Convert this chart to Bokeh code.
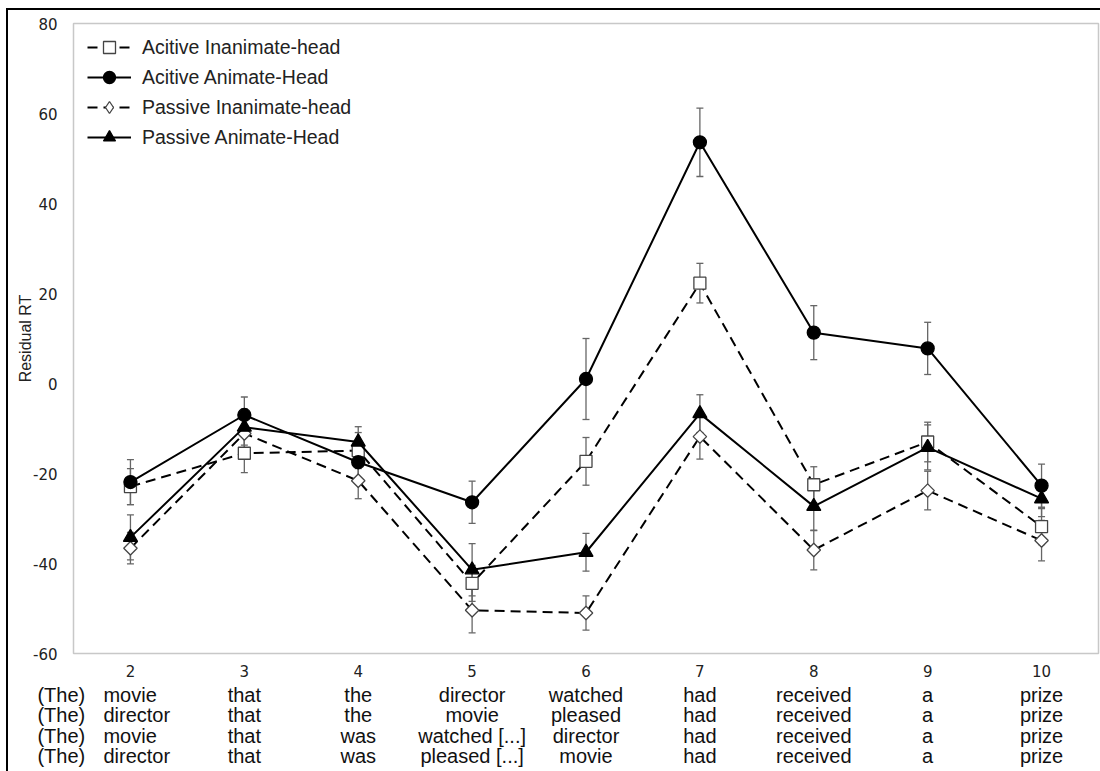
from bokeh.plotting import figure
from bokeh.layouts import column
from bokeh.models import (ColumnDataSource, Whisker, TeeHead, Legend, LegendItem,
                          FixedTicker, Range1d)
from bokeh.embed import file_html
from bokeh.resources import INLINE
from bokeh.core.properties import value

# ---------------- data ----------------
positions = [2, 3, 4, 5, 6, 7, 8, 9, 10]

act_inan = [-22.9, -15.5, -14.9, -44.4, -17.3, 22.3, -22.5, -13.0, -31.8]
act_inan_err = [4.0, 4.3, 4.0, 4.0, 5.3, 4.4, 4.0, 4.4, 4.0]

act_anim = [-21.9, -7.0, -17.5, -26.4, 1.0, 53.6, 11.3, 7.8, -22.7]
act_anim_err = [5.0, 4.0, 4.0, 4.7, 9.0, 7.6, 6.0, 5.8, 4.8]

pas_inan = [-36.6, -11.1, -21.6, -50.4, -51.0, -11.8, -37.0, -23.8, -34.9]
pas_inan_err = [3.5, 4.0, 4.0, 5.0, 3.8, 5.0, 4.4, 4.3, 4.5]

pas_anim = [-34.2, -9.7, -13.0, -41.4, -37.5, -6.7, -27.3, -14.2, -25.6]
pas_anim_err = [5.0, 4.0, 3.4, 5.8, 4.2, 4.2, 5.4, 5.0, 4.0]

series_names = ["Acitive Inanimate-head", "Acitive Animate-Head",
                "Passive Inanimate-head", "Passive Animate-Head"]

y_ticks = [-60, -40, -20, 0, 20, 40, 60, 80]
y_tick_labels = ["-60", "-40", "-20", "0", "20", "40", "60", "80"]
x_tick_labels = ["2", "3", "4", "5", "6", "7", "8", "9", "10"]

row_prefix = "(The)"
word_rows = [
    ["movie", "that", "the", "director", "watched", "had", "received", "a", "prize"],
    ["director", "that", "the", "movie", "pleased", "had", "received", "a", "prize"],
    ["movie", "that", "was", "watched [...]", "director", "had", "received", "a", "prize"],
    ["director", "that", "was", "pleased [...]", "movie", "had", "received", "a", "prize"],
]

# ---------------- geometry ----------------
CANVAS_W = 1092
FRAME_L, FRAME_W = 65, 1025
FRAME_R = CANVAS_W - FRAME_L - FRAME_W
TOP_H = 673
WORDS_H = 88
X0, X1 = 1.5, 10.5

# ---------------- main figure ----------------
p = figure(width=CANVAS_W, height=TOP_H, x_range=Range1d(X0, X1), y_range=(-60, 80),
           output_backend="svg", toolbar_location=None,
           min_border_left=FRAME_L, min_border_right=FRAME_R, min_border_top=13,
           min_border_bottom=30,
           background_fill_color="white", border_fill_color="white",
           outline_line_color="#c8c8c8", outline_line_width=1.5)
p.frame_align = False

p.xgrid.visible = False
p.ygrid.visible = False

p.yaxis.ticker = FixedTicker(ticks=y_ticks)
p.yaxis.major_label_overrides = {t: l for t, l in zip(y_ticks, y_tick_labels)}
p.yaxis.axis_line_color = None
p.yaxis.major_tick_line_color = None
p.yaxis.minor_tick_line_color = None
p.yaxis.major_label_text_font = "DejaVu Sans"
p.yaxis.major_label_text_font_size = "15px"
p.yaxis.major_label_text_color = "#222222"
p.yaxis.major_label_standoff = 10
p.yaxis.axis_label = "Residual RT"
p.yaxis.axis_label_text_font = "Liberation Sans"
p.yaxis.axis_label_text_font_style = "normal"
p.yaxis.axis_label_text_font_size = "16px"
p.yaxis.axis_label_text_color = "#222222"
p.yaxis.axis_label_standoff = -4

p.xaxis.ticker = FixedTicker(ticks=positions)
p.xaxis.major_label_overrides = {t: l for t, l in zip(positions, x_tick_labels)}
p.xaxis.axis_line_color = None
p.xaxis.major_tick_line_color = None
p.xaxis.minor_tick_line_color = None
p.xaxis.major_label_text_font = "DejaVu Sans"
p.xaxis.major_label_text_font_size = "15px"
p.xaxis.major_label_text_color = "#222222"
p.xaxis.major_label_standoff = 5

styles = [
    dict(dash="10 6", marker="square", size=12, fill="white", line="#444444", angle=0.0),
    dict(dash="solid", marker="circle", size=13, fill="black", line="black", angle=0.0),
    dict(dash="10 6", marker="square", size=9.5, fill="white", line="#444444", angle=0.785398),
    dict(dash="solid", marker="triangle", size=14, fill="black", line="black", angle=0.0),
]
all_vals = [act_inan, act_anim, pas_inan, pas_anim]
all_errs = [act_inan_err, act_anim_err, pas_inan_err, pas_anim_err]

for vals, errs in zip(all_vals, all_errs):
    src = ColumnDataSource(dict(x=positions,
                                upper=[v + e for v, e in zip(vals, errs)],
                                lower=[v - e for v, e in zip(vals, errs)]))
    w = Whisker(base="x", upper="upper", lower="lower", source=src,
                line_color="#666666", line_width=1.3,
                upper_head=TeeHead(size=7, line_color="#666666", line_width=1.3),
                lower_head=TeeHead(size=7, line_color="#666666", line_width=1.3))
    w.level = "underlay"
    p.add_layout(w)

items = []
for k, (name, vals, st) in enumerate(zip(series_names, all_vals, styles)):
    src = ColumnDataSource(dict(x=positions, y=vals))
    ln = p.line("x", "y", source=src, line_color="black", line_width=2,
                line_dash=st["dash"])
    if st["angle"] != 0.0:
        # diamond symbol used by the legend; it sits hidden under the rotated square
        sym = p.scatter("x", "y", source=src, marker="diamond", size=11,
                        fill_color=st["fill"], line_color=st["line"], line_width=1.3)
    sc = p.scatter("x", "y", source=src, marker=st["marker"], size=st["size"],
                   fill_color=st["fill"], line_color=st["line"], line_width=1.3,
                   angle=st["angle"])
    if st["angle"] != 0.0:
        items.append(LegendItem(label=name, renderers=[ln, sym]))
    else:
        items.append(LegendItem(label=name, renderers=[ln, sc]))

legend = Legend(items=items, location=(14, 501), orientation="vertical",
                border_line_color=None, background_fill_alpha=0.0,
                label_text_font="Liberation Sans", label_text_font_size="19.5px",
                label_text_color="#222222",
                glyph_width=44, glyph_height=30, label_height=30,
                label_standoff=11, spacing=0, padding=10, margin=0)
p.add_layout(legend)

# ---------------- sentence rows (second panel, same x scale) ----------------
ppu = FRAME_W / (X1 - X0)
q = figure(width=CANVAS_W, height=WORDS_H,
           x_range=Range1d(X0 - FRAME_L / ppu, X1 + FRAME_R / ppu),
           y_range=Range1d(WORDS_H, 0),
           output_backend="svg", toolbar_location=None,
           x_axis_location=None, y_axis_location=None,
           min_border_left=0, min_border_right=0, min_border_top=0, min_border_bottom=0,
           outline_line_color=None, background_fill_color="white",
           border_fill_color="white")
q.frame_align = False
q.xgrid.visible = False
q.ygrid.visible = False

row_top, row_step = 11, 20.5
lx, ly, lt, lo = [], [], [], []
cx, cy, ct = [], [], []
for r, words in enumerate(word_rows):
    yy = row_top + r * row_step
    lx.append(positions[0]); ly.append(yy); lt.append(row_prefix); lo.append(-93)
    lx.append(positions[0]); ly.append(yy); lt.append(words[0]); lo.append(-27)
    for xp, wd in zip(positions[1:], words[1:]):
        cx.append(xp); cy.append(yy); ct.append(wd)

q.text(x="x", y="y", text="text", x_offset="xo",
       source=ColumnDataSource(dict(x=lx, y=ly, text=lt, xo=lo)),
       text_align="left", text_baseline="middle",
       text_font=value("Liberation Sans"), text_font_size="20px", text_color="#111111")
q.text(x="x", y="y", text="text",
       source=ColumnDataSource(dict(x=cx, y=cy, text=ct)),
       text_align="center", text_baseline="middle",
       text_font=value("Liberation Sans"), text_font_size="20px", text_color="#111111")

layout = column(p, q, spacing=0,
                styles={"margin-left": "6px", "margin-top": "8px",
                        "border-left": "2px solid black",
                        "border-top": "2px solid black"})

open("out.html", "w").write(file_html(layout, INLINE))
